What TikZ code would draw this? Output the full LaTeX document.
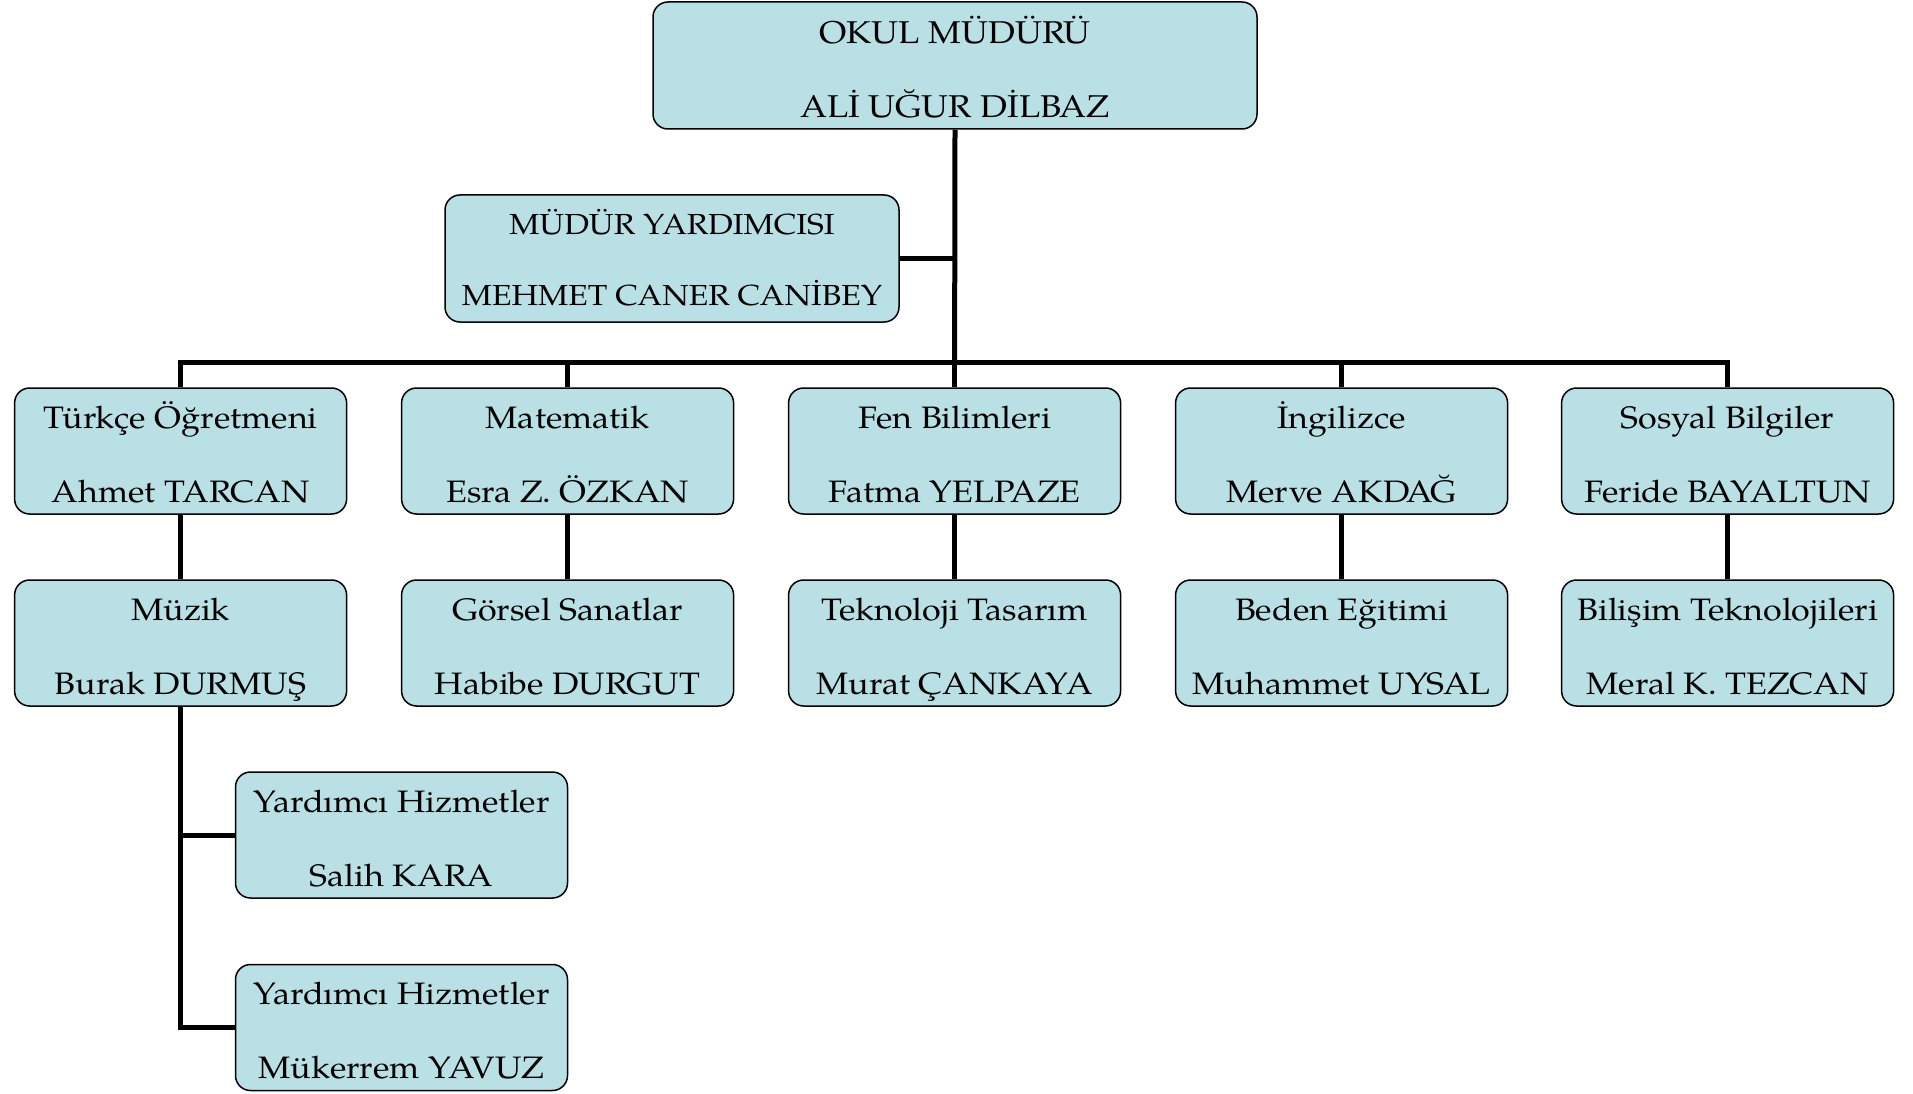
\documentclass[tikz,border=0pt]{standalone}
\usepackage{fontspec}
\setmainfont[FakeStretch=1.1]{TeX Gyre Pagella}
\usetikzlibrary{backgrounds}
\definecolor{boxfill}{RGB}{185,224,228}
\begin{document}
\begin{tikzpicture}[x=1pt,y=-1pt,
  box/.style={draw=black, line width=1.5pt, fill=boxfill, rounded corners=15pt,
    minimum width=332pt, minimum height=126pt, align=center, inner sep=0pt,
    font=\fontsize{31}{74}\selectfont, text height=112pt, text depth=10pt},
  conn/.style={line width=5pt, line join=miter}]
\useasboundingbox (0,0) rectangle (1913,1094);
\node[box, minimum width=604pt, minimum height=127pt, font=\fontsize{31.5}{74}\selectfont, text height=114pt] (top) at (955,65.5) {OKUL MÜDÜRÜ\\ALİ UĞUR DİLBAZ};
\node[box, minimum width=454pt, minimum height=127pt, font=\fontsize{29}{71}\selectfont, text height=103pt] (dep) at (672,258.5) {MÜDÜR YARDIMCISI\\MEHMET CANER CANİBEY};
\node[box] (t1) at (180.6,451) {Türkçe Öğretmeni\\Ahmet TARCAN};
\node[box] (t2) at (567.6,451) {Matematik\\Esra Z. ÖZKAN};
\node[box] (t3) at (954.6,451) {Fen Bilimleri\\Fatma YELPAZE};
\node[box] (t4) at (1341.6,451) {İngilizce\\Merve AKDAĞ};
\node[box] (t5) at (1727.6,451) {Sosyal Bilgiler\\Feride BAYALTUN};
\node[box] (b1) at (180.6,643) {Müzik\\Burak DURMUŞ};
\node[box] (b2) at (567.6,643) {Görsel Sanatlar\\Habibe DURGUT};
\node[box] (b3) at (954.6,643) {Teknoloji Tasarım\\Murat ÇANKAYA};
\node[box] (b4) at (1341.6,643) {Beden Eğitimi\\Muhammet UYSAL};
\node[box] (b5) at (1727.6,643) {Bilişim Teknolojileri\\Meral K. TEZCAN};
\node[box] (y1) at (401.5,835) {Yardımcı Hizmetler\\Salih KARA};
\node[box] (y2) at (401.5,1027.5) {Yardımcı Hizmetler\\Mükerrem YAVUZ};
\coordinate (busC) at (954.6,362);
\begin{scope}[on background layer]
\draw[conn] (top.south) -- (busC);
\draw[conn] (dep.east) -- (dep.east -| top.south);
\draw[conn] (t1.north) -- (t1.north |- busC) -- (t5.north |- busC) -- (t5.north);
\draw[conn] (t2.north |- busC) -- (t2.north);
\draw[conn] (t3.north |- busC) -- (t3.north);
\draw[conn] (t4.north |- busC) -- (t4.north);
\draw[conn] (t1.south) -- (b1.north);
\draw[conn] (t2.south) -- (b2.north);
\draw[conn] (t3.south) -- (b3.north);
\draw[conn] (t4.south) -- (b4.north);
\draw[conn] (t5.south) -- (b5.north);
\draw[conn] (b1.south) -- (b1.south |- y2.west) -- (y2.west);
\draw[conn] (b1.south |- y1.west) -- (y1.west);
\end{scope}
\end{tikzpicture}
\end{document}
